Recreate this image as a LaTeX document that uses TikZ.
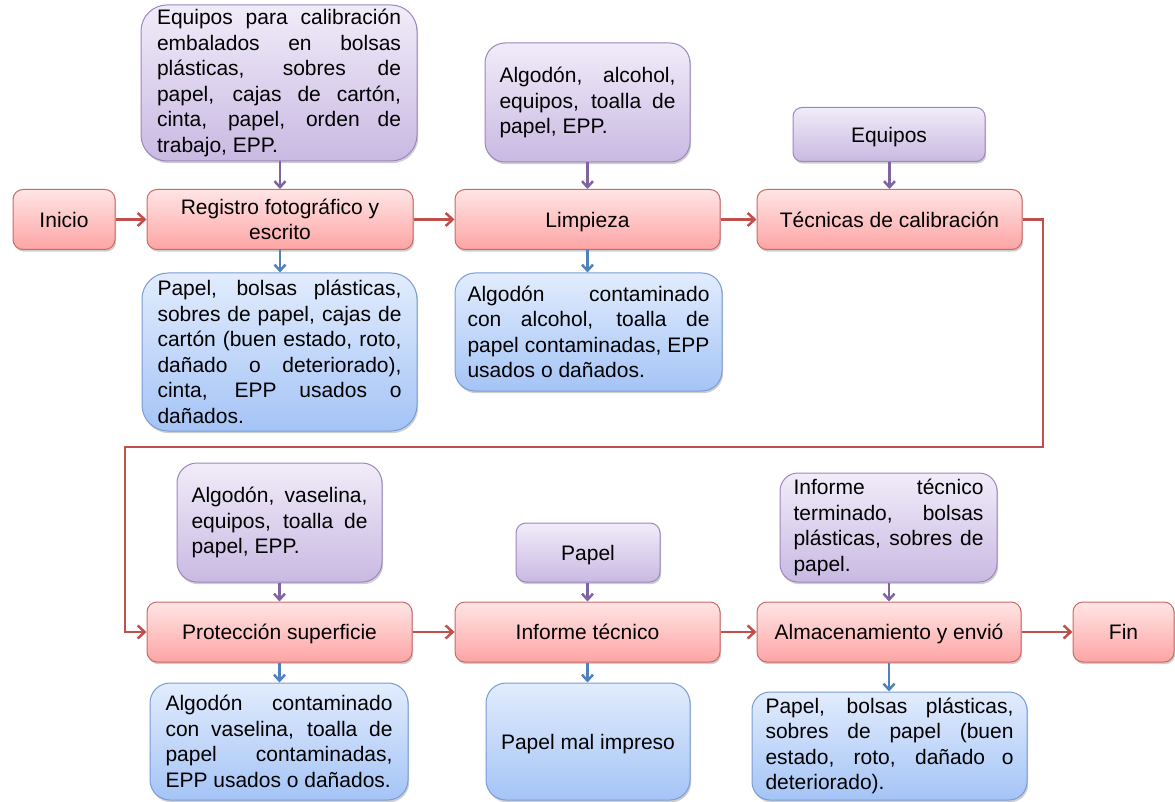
\documentclass[tikz,border=0pt]{standalone}
\usepackage{fontspec}
\setmainfont{Liberation Sans}
\usetikzlibrary{arrows.meta,shadows}

\definecolor{redline}{RGB}{192,80,77}
\definecolor{redborder}{RGB}{206,104,101}
\definecolor{redtop}{RGB}{255,229,229}
\definecolor{redbot}{RGB}{253,164,164}
\definecolor{purpline}{RGB}{128,100,162}
\definecolor{purpborder}{RGB}{158,134,192}
\definecolor{purptop}{RGB}{241,236,249}
\definecolor{purpbot}{RGB}{201,185,226}
\definecolor{blueline}{RGB}{79,129,189}
\definecolor{blueborder}{RGB}{120,157,212}
\definecolor{bluetop}{RGB}{226,236,253}
\definecolor{bluebot}{RGB}{164,196,246}

% plain font spacing inside a box
\newcommand\PlainSp{\spaceskip=0pt\xspaceskip=0pt\relax}
% one fully justified line of a text box
\newcommand\J[1]{\makebox[\hsize][s]{\PlainSp #1}}
% last (unstretched) line of a text box
\newcommand\K[1]{\mbox{\PlainSp #1}}

\begin{document}
\begin{tikzpicture}[x=1pt,y=-1pt,
  box/.style={draw, line width=1pt, inner sep=0pt,
    font=\fontsize{21}{25.5}\selectfont,
    execute at begin node=\PlainSp,
    drop shadow={shadow xshift=1.2pt, shadow yshift=-2.2pt, opacity=0.35, fill=black!55}},
  oneline/.style={text height=15.5pt, text depth=0pt},
  stage/.style={box, draw=redborder, top color=redtop, bottom color=redbot,
    align=center, rounded corners=10pt, minimum height=60pt},
  inbox/.style={box, draw=purpborder, top color=purptop, bottom color=purpbot, align=left},
  outbox/.style={box, draw=blueborder, top color=bluetop, bottom color=bluebot, align=left},
  flow/.style={draw=redline, line width=2.5pt, -{Straight Barb[length=7pt,width=13pt]}},
  feed/.style={draw=purpline, line width=2.5pt, -{Straight Barb[length=6pt,width=11pt]}},
  waste/.style={draw=blueline, line width=2.5pt, -{Straight Barb[length=6pt,width=11pt]}}
]
\useasboundingbox (0,0) rectangle (1175,802);

% process stages
\node[stage, oneline, minimum width=102pt] (ini) at (64,219.5) {Inicio};
\node[stage, minimum width=266pt] (reg) at (280,219.5) {\K{Registro fotográfico y}\\escrito};
\node[stage, oneline, minimum width=265pt] (lim) at (587.5,219.5) {Limpieza};
\node[stage, oneline, minimum width=265pt] (tec) at (889.5,219.5) {\K{Técnicas de calibración}};
\node[stage, oneline, minimum width=265pt] (pro) at (279.5,632) {\K{Protección superficie}};
\node[stage, oneline, minimum width=265pt] (inf) at (587.5,632) {\K{Informe técnico}};
\node[stage, oneline, minimum width=264pt] (alm) at (889,632) {\K{Almacenamiento y envió}};
\node[stage, oneline, minimum width=101pt] (fin) at (1123.5,632) {Fin};

% inputs
\node[inbox, minimum width=276pt, minimum height=156pt, text width=244pt, rounded corners=26pt] (in1) at (279,83)
  {\J{Equipos para calibración}\\\J{embalados en bolsas}\\\J{plásticas, sobres de}\\\J{papel, cajas de cartón,}\\\J{cinta, papel, orden de}\\\K{trabajo, EPP.}};
\node[inbox, minimum width=205pt, minimum height=119pt, text width=176pt, rounded corners=20pt] (in2) at (587.5,102.5)
  {\J{Algodón, alcohol,}\\\J{equipos, toalla de}\\\K{papel, EPP.}};
\node[inbox, oneline, align=center, minimum width=192pt, minimum height=54pt, rounded corners=9pt] (in3) at (889,134.5) {Equipos};
\node[inbox, minimum width=205pt, minimum height=119pt, text width=176pt, rounded corners=20pt] (in4) at (279.5,522.5)
  {\J{Algodón, vaselina,}\\\J{equipos, toalla de}\\\K{papel, EPP.}};
\node[inbox, oneline, align=center, minimum width=144pt, minimum height=59pt, rounded corners=10pt] (in5) at (588,552.5) {Papel};
\node[inbox, minimum width=217pt, minimum height=109pt, text width=190pt, rounded corners=18pt] (in6) at (888.5,527.5)
  {\J{Informe técnico}\\\J{terminado, bolsas}\\\J{plásticas, sobres de}\\\K{papel.}};

% outputs
\node[outbox, minimum width=275pt, minimum height=158pt, text width=244pt, rounded corners=26pt] (out1) at (279.5,352)
  {\J{Papel, bolsas plásticas,}\\\J{sobres de papel, cajas de}\\\J{cartón (buen estado, roto,}\\\J{dañado o deteriorado),}\\\J{cinta, EPP usados o}\\\K{dañados.}};
\node[outbox, minimum width=267pt, minimum height=118pt, text width=242pt, rounded corners=20pt] (out2) at (588.5,332)
  {\J{Algodón contaminado}\\\J{con alcohol, toalla de}\\\J{papel contaminadas, EPP}\\\K{usados o dañados.}};
\node[outbox, minimum width=258pt, minimum height=117pt, text width=227pt, rounded corners=20pt] (out3) at (279,741.5)
  {\J{Algodón contaminado}\\\J{con vaselina, toalla de}\\\J{papel contaminadas,}\\\K{EPP usados o dañados.}};
\node[outbox, oneline, align=center, minimum width=204pt, minimum height=117pt, rounded corners=20pt] (out4) at (588,741.5) {\K{Papel mal impreso}};
\node[outbox, minimum width=275pt, minimum height=108pt, text width=248pt, rounded corners=18pt] (out5) at (889.5,746)
  {\J{Papel, bolsas plásticas,}\\\J{sobres de papel (buen}\\\J{estado, roto, dañado o}\\\K{deteriorado).}};

% main flow
\coordinate (t1) at (1043,219.5);
\coordinate (t2) at (1043,447);
\coordinate (t3) at (125,447);
\coordinate (t4) at (125,632);
\draw[flow] (ini.east) -- (reg.west);
\draw[flow] (reg.east) -- (lim.west);
\draw[flow] (lim.east) -- (tec.west);
\draw[flow] (tec.east) -- (t1) -- (t2) -- (t3) -- (t4) -- (pro.west);
\draw[flow] (pro.east) -- (inf.west);
\draw[flow] (inf.east) -- (alm.west);
\draw[flow] (alm.east) -- (fin.west);

% inputs into the stages
\draw[feed] (reg.north |- in1.south) -- (reg.north);
\draw[feed] (lim.north |- in2.south) -- (lim.north);
\draw[feed] (tec.north |- in3.south) -- (tec.north);
\draw[feed] (pro.north |- in4.south) -- (pro.north);
\draw[feed] (inf.north |- in5.south) -- (inf.north);
\draw[feed] (alm.north |- in6.south) -- (alm.north);

% outputs of the stages
\draw[waste] (reg.south) -- (reg.south |- out1.north);
\draw[waste] (lim.south) -- (lim.south |- out2.north);
\draw[waste] (pro.south) -- (pro.south |- out3.north);
\draw[waste] (inf.south) -- (inf.south |- out4.north);
\draw[waste] (alm.south) -- (alm.south |- out5.north);
\end{tikzpicture}
\end{document}
